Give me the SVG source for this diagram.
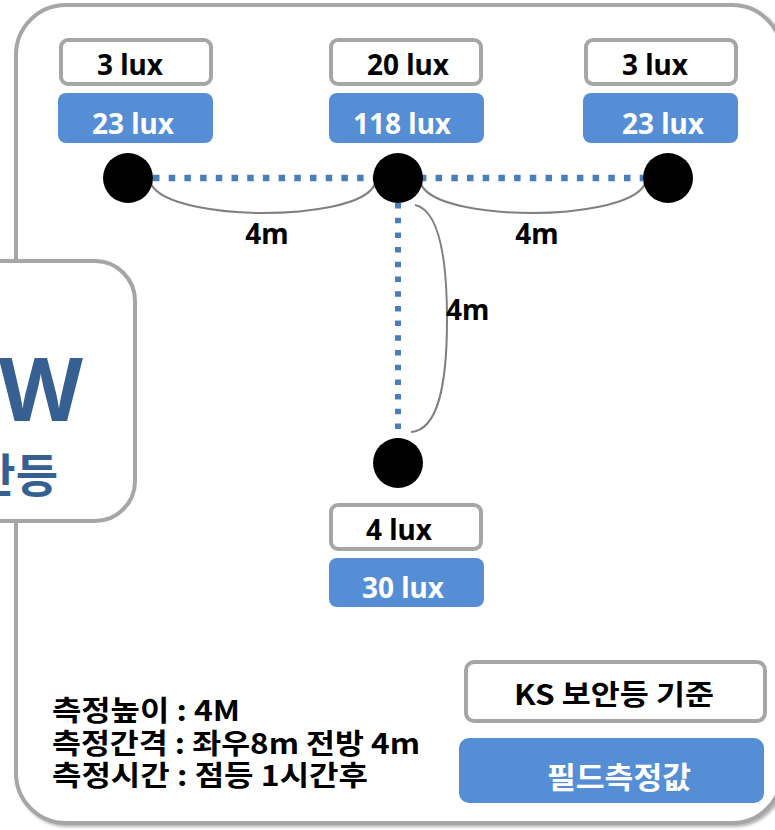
<svg xmlns="http://www.w3.org/2000/svg" width="775" height="830" viewBox="0 0 775 830">
  <defs>
    <filter id="sh" x="-5%" y="-5%" width="110%" height="110%">
      <feDropShadow dx="2" dy="2" stdDeviation="1.5" flood-color="#7f7f7f" flood-opacity="0.6"/>
    </filter>
  </defs>
  <style>
    text { font-family: "Noto Sans", "Noto Sans CJK KR", sans-serif; font-weight: bold; }
    .kr { font-family: "Noto Sans CJK KR", "Noto Sans", sans-serif; }
    .std { fill: #ffffff; stroke: #a6a6a6; stroke-width: 4; }
    .fld { fill: #558ed5; }
    .lbl { font-size: 28px; fill: #000000; text-anchor: middle; }
    .val { font-size: 28px; fill: #ffffff; text-anchor: middle; }
    .dot { fill: #000000; }
    .dots { fill: none; stroke: #4a7ebb; }
    .arc { fill: none; stroke: #808080; stroke-width: 2; }
    .dim { font-size: 28px; fill: #000000; }
    .cond { font-size: 28px; fill: #000000; }
  </style>
  <rect width="775" height="830" fill="#ffffff"/>

  <g id="frame">
    <rect x="16" y="5" width="766" height="818" rx="50" fill="#ffffff" stroke="#a6a6a6" stroke-width="4" filter="url(#sh)"/>
  </g>

  <g id="lamp-title">
    <rect x="-45" y="261" width="180" height="260" rx="40" fill="#ffffff" stroke="#a6a6a6" stroke-width="4"/>
    <text x="83" y="421" font-size="87" fill="#366092" text-anchor="end">W</text>
    <text class="kr" x="58" y="492" font-size="46" fill="#366092" text-anchor="end">안등</text>
  </g>

  <g id="connectors">
    <line class="dots" x1="153" y1="178" x2="643" y2="178" stroke-width="6.5" stroke-dasharray="6.5 9.2"/>
    <line class="dots" x1="398" y1="203" x2="398" y2="440" stroke-width="6" stroke-dasharray="5.5 9.2"/>
    <path class="arc" d="M151,184 C162,206 225,213 263,213 C305,213 366,206 375,184"/>
    <path class="arc" d="M421,184 C430,206 491,213 533,213 C571,213 634,206 645,184"/>
    <path class="arc" d="M415,205 C438,210 447,255 447,320 C447,385 438,430 411,432"/>
    <text class="dim" x="267" y="244" text-anchor="middle">4m</text>
    <text class="dim" x="537" y="244" text-anchor="middle">4m</text>
    <text class="dim" x="446" y="320">4m</text>
  </g>

  <g id="point-left">
    <circle class="dot" cx="128" cy="178" r="25"/>
    <rect class="std" x="61" y="40" width="150" height="44" rx="7"/>
    <text class="lbl" x="130" y="75">3 lux</text>
    <rect class="fld" x="58" y="93" width="155" height="50" rx="8"/>
    <text class="val" x="133" y="134">23 lux</text>
  </g>

  <g id="point-center">
    <circle class="dot" cx="398" cy="178" r="25"/>
    <rect class="std" x="331" y="40" width="150" height="44" rx="7"/>
    <text class="lbl" x="408" y="75">20 lux</text>
    <rect class="fld" x="329" y="93" width="155" height="50" rx="8"/>
    <text class="val" x="402" y="134">118 lux</text>
  </g>

  <g id="point-right">
    <circle class="dot" cx="668" cy="178" r="25"/>
    <rect class="std" x="586" y="40" width="150" height="44" rx="7"/>
    <text class="lbl" x="655" y="75">3 lux</text>
    <rect class="fld" x="583" y="93" width="155" height="50" rx="8"/>
    <text class="val" x="663" y="134">23 lux</text>
  </g>

  <g id="point-front">
    <circle class="dot" cx="398" cy="463" r="25"/>
    <rect class="std" x="331" y="505" width="150" height="44" rx="7"/>
    <text class="lbl" x="399" y="540">4 lux</text>
    <rect class="fld" x="329" y="558" width="155" height="49" rx="8"/>
    <text class="val" x="403" y="598">30 lux</text>
  </g>

  <g id="conditions">
    <text class="kr cond" x="52" y="721" textLength="188" lengthAdjust="spacingAndGlyphs">측정높이 : 4M</text>
    <text class="kr cond" x="52" y="754" textLength="368" lengthAdjust="spacingAndGlyphs">측정간격 : 좌우8m 전방 4m</text>
    <text class="kr cond" x="52" y="786" textLength="316" lengthAdjust="spacingAndGlyphs">측정시간 : 점등 1시간후</text>
  </g>

  <g id="legend-ks">
    <rect class="std" x="466" y="662" width="299" height="59" rx="8"/>
    <text class="kr" x="514" y="705" font-size="28" fill="#000000" textLength="200" lengthAdjust="spacingAndGlyphs">KS 보안등 기준</text>
  </g>

  <g id="legend-field">
    <rect class="fld" x="459" y="738" width="305" height="65" rx="10"/>
    <text class="kr" x="547" y="788" font-size="30" fill="#ffffff" textLength="144" lengthAdjust="spacingAndGlyphs">필드측정값</text>
  </g>
</svg>
